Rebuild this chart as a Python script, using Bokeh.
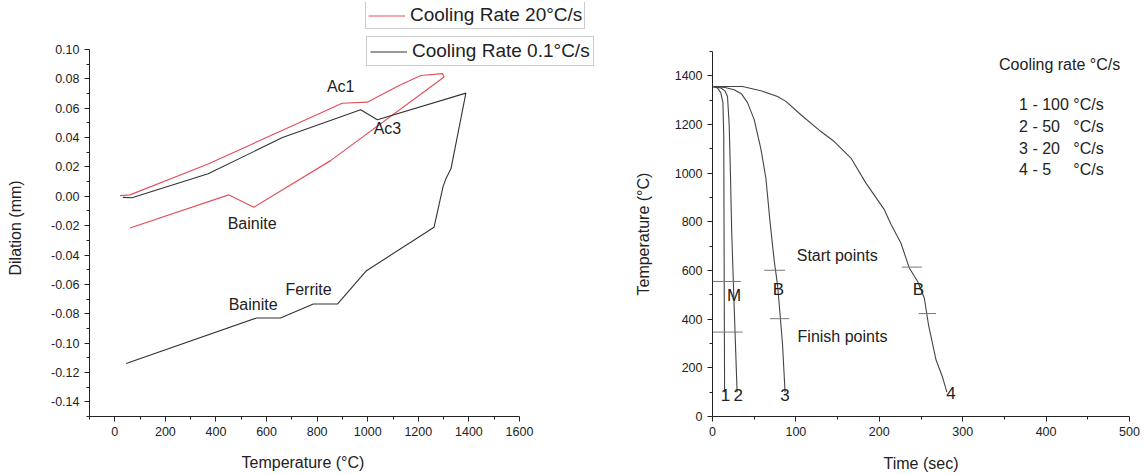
from bokeh.plotting import figure
from bokeh.layouts import row
from bokeh.models import Range1d, FixedTicker, Legend, LegendItem, Title
from bokeh.core.properties import value
from bokeh.embed import file_html
from bokeh.resources import INLINE

FONT = "Liberation Sans"
NBSP = "\u00a0"

# ---------------- Left chart data: dilation vs temperature ----------------
red_label = "Cooling Rate 20°C/s"
red_temp = [21, 60, 369, 899, 998, 1124, 1210, 1296, 1302, 853, 549, 450, 60]
red_dil = [0.0005, 0.001, 0.022, 0.0634, 0.0641, 0.0755, 0.0823, 0.0835, 0.0812, 0.0243,
           -0.0075, 0.001, -0.0216]

blk_label = "Cooling Rate 0.1°C/s"
blk_temp = [32, 68, 369, 663, 972, 1038, 1388, 1329, 1309, 1298, 1262, 995, 880, 785, 655, 560, 45]
blk_dil = [-0.0007, -0.001, 0.0153, 0.040, 0.0589, 0.0521, 0.0703, 0.0187, 0.0119, 0.0068, -0.0211,
           -0.0507, -0.0734, -0.0734, -0.0829, -0.0829, -0.1139]

ann_text = ["Ac1", "Ac3", "Bainite", "Bainite", "Ferrite"]
ann_temp = [893, 1078, 543, 547, 766]
ann_dil = [0.0748, 0.046, -0.0188, -0.0734, -0.0632]

left_x_bounds = (-100, 1600)
left_y_bounds = (-0.15, 0.10)
left_x_ticks = [0, 200, 400, 600, 800, 1000, 1200, 1400, 1600]
left_x_minor = [-100, 100, 300, 500, 700, 900, 1100, 1300, 1500]
left_y_ticks = [-0.14, -0.12, -0.10, -0.08, -0.06, -0.04, -0.02, 0.00, 0.02, 0.04, 0.06, 0.08, 0.10]
left_y_labels = ["-0.14", "-0.12", "-0.10", "-0.08", "-0.06", "-0.04", "-0.02", "0.00",
                 "0.02", "0.04", "0.06", "0.08", "0.10"]
left_y_minor = [-0.15, -0.13, -0.11, -0.09, -0.07, -0.05, -0.03, -0.01, 0.01, 0.03, 0.05, 0.07, 0.09]

# ---------------- Right chart data: temperature vs time ----------------
c1_t = [0, 6, 10, 12.5, 13.5, 14, 14.5]
c1_T = [1356, 1350, 1330, 1290, 1150, 600, 100]
c2_t = [0, 10, 15, 18, 20, 21.5, 23, 26, 29.5]
c2_T = [1356, 1350, 1338, 1315, 1200, 1000, 760, 450, 100]
c3_t = [0, 15, 26, 35, 42, 50, 58, 64, 69, 74, 78, 81, 84, 87]
c3_T = [1356, 1352, 1343, 1325, 1290, 1220, 1100, 980, 800, 640, 540, 420, 295, 100]
c4_t = [0, 36, 58, 78, 88, 106, 130, 146, 166, 184, 206, 214, 226, 236, 246, 254, 259, 268, 276, 281]
c4_T = [1356, 1356, 1339, 1315, 1295, 1240, 1171, 1130, 1062, 959, 850, 790, 712, 610, 555, 486, 377, 233, 160, 100]

mark_t0 = [0, 0, 62, 69, 227, 247]
mark_t1 = [34, 36, 87, 92, 251, 268]
mark_T = [555, 347, 601, 402, 614, 423]

lbl_text = ["M", "B", "B", "1", "2", "3", "4"]
lbl_t = [26, 79, 247, 15.6, 30.8, 87, 286]
lbl_T = [497, 521, 521, 89, 89, 89, 96]

note_text = ["Start points", "Finish points"]
note_t = [101, 102]
note_T = [662, 329]

key_title = "Cooling rate °C/s"
key_lines = ["1 - 100 °C/s",
             "2 - 50" + NBSP * 2 + " °C/s",
             "3 - 20" + NBSP * 2 + " °C/s",
             "4 - 5" + NBSP * 4 + " °C/s"]
key_T = [1281, 1192, 1100, 1014]

right_x_bounds = (0, 500)
right_y_bounds = (0, 1500)
right_x_ticks = [0, 100, 200, 300, 400, 500]
right_x_minor = [50, 150, 250, 350, 450]
right_y_ticks = [0, 200, 400, 600, 800, 1000, 1200, 1400]
right_y_minor = [100, 300, 500, 700, 900, 1100, 1300, 1500]

TOP, BOTTOM = 2, 58          # page px: frames span y = 2 .. 416
FRAME_H = 474 - TOP - BOTTOM


def style_axes(p):
    p.outline_line_color = None
    p.xgrid.visible = False
    p.ygrid.visible = False
    for ax in (p.xaxis[0], p.yaxis[0]):
        ax.axis_line_color = "#222222"
        ax.major_tick_line_color = "#222222"
        ax.minor_tick_line_color = "#222222"
        ax.major_tick_in = 0
        ax.major_tick_out = 5
        ax.minor_tick_in = 0
        ax.minor_tick_out = 3
        ax.major_label_text_font = FONT
        ax.major_label_text_font_size = "12.5px"
        ax.major_label_text_color = "#222222"
        ax.axis_label_text_font = FONT
        ax.axis_label_text_font_size = "16px"
        ax.axis_label_text_font_style = "normal"
        ax.axis_label_text_color = "#222222"


def spacer(ax, size_px, standoff):
    # blank axis label used only to push the axis title (a Title) outward
    ax.axis_label = NBSP
    ax.axis_label_text_font_size = f"{size_px}px"
    ax.axis_label_standoff = standoff


def axis_title(text, offset, standoff):
    return Title(text=text, align="left", offset=offset, standoff=standoff,
                 text_font=FONT, text_font_size="16px", text_font_style="normal",
                 text_color="#222222")


# ---------------- Left figure ----------------
# Frame is larger than the axes' extent so the legend boxes (above / right of the
# axes in the reference) are not clipped; the axes are limited with bounds.
px_per_x = 430 / (left_x_bounds[1] - left_x_bounds[0])
px_per_y = 367 / (left_y_bounds[1] - left_y_bounds[0])
x_end = left_x_bounds[0] + 516 / px_per_x
y_end = left_y_bounds[0] + FRAME_H / px_per_y

p1 = figure(width=620, height=474, x_range=Range1d(left_x_bounds[0], x_end),
            y_range=Range1d(left_y_bounds[0], y_end),
            output_backend="svg", toolbar_location=None,
            min_border_left=89, min_border_right=15, min_border_top=TOP, min_border_bottom=BOTTOM)
style_axes(p1)
p1.xaxis[0].bounds = left_x_bounds
p1.yaxis[0].bounds = left_y_bounds
p1.xaxis[0].ticker = FixedTicker(ticks=left_x_ticks, minor_ticks=left_x_minor)
p1.yaxis[0].ticker = FixedTicker(ticks=left_y_ticks, minor_ticks=left_y_minor)
p1.yaxis[0].major_label_overrides = {t: s for t, s in zip(left_y_ticks, left_y_labels)}
spacer(p1.xaxis[0], 4, 3)
spacer(p1.yaxis[0], 12, 4)
p1.add_layout(axis_title("Temperature (°C)", 152, 4), "below")
p1.add_layout(axis_title("Dilation (mm)", 141, 8), "left")

r_red = p1.line(red_temp, red_dil, line_color="#e0525a", line_width=1.2)
r_blk = p1.line(blk_temp, blk_dil, line_color="#333333", line_width=1.1)
p1.text(ann_temp, ann_dil, text=ann_text, text_font=value(FONT), text_font_size="16px",
        text_align="center", text_baseline="middle", text_color="#222222")

for rend, lab, loc, pad in ((r_red, red_label, (276, 387), 2), (r_blk, blk_label, (277, 350), 3)):
    lg = Legend(items=[LegendItem(label=lab, renderers=[rend])], location=loc,
                border_line_color="#999999", border_line_width=1, background_fill_alpha=1,
                padding=pad, margin=0, glyph_width=37, glyph_height=19, label_height=19,
                label_standoff=5, label_text_font=FONT, label_text_font_size="19px",
                label_text_color="#222222", spacing=0)
    p1.add_layout(lg)

# ---------------- Right figure ----------------
r_y_end = right_y_bounds[1] * FRAME_H / 365

p2 = figure(width=526, height=474, x_range=Range1d(*right_x_bounds), y_range=Range1d(0, r_y_end),
            output_backend="svg", toolbar_location=None,
            min_border_left=92, min_border_right=17, min_border_top=TOP, min_border_bottom=BOTTOM)
style_axes(p2)
p2.yaxis[0].bounds = right_y_bounds
p2.xaxis[0].ticker = FixedTicker(ticks=right_x_ticks, minor_ticks=right_x_minor)
p2.yaxis[0].ticker = FixedTicker(ticks=right_y_ticks, minor_ticks=right_y_minor)
p2.xaxis[0].axis_label = "Time (sec)"
p2.xaxis[0].axis_label_standoff = 16
spacer(p2.yaxis[0], 8, 4)
p2.add_layout(axis_title("Temperature (°C)", 121, 8), "left")

for tt, TT in ((c1_t, c1_T), (c2_t, c2_T), (c3_t, c3_T), (c4_t, c4_T)):
    p2.line(tt, TT, line_color="#444444", line_width=1.1)
p2.segment(mark_t0, mark_T, mark_t1, mark_T, line_color="#777777", line_width=1)
p2.text(lbl_t, lbl_T, text=lbl_text, text_font=value(FONT), text_font_size="17px",
        text_align="center", text_baseline="middle", text_color="#222222")
p2.text(note_t, note_T, text=note_text, text_font=value(FONT), text_font_size="16px",
        text_align="left", text_baseline="middle", text_color="#222222")
p2.text([343.6], [1447], text=[key_title], text_font=value(FONT), text_font_size="16px",
        text_align="left", text_baseline="middle", text_color="#222222")
p2.text([367.6] * len(key_lines), key_T, text=key_lines, text_font=value(FONT),
        text_font_size="16px", text_align="left", text_baseline="middle", text_color="#222222")

layout = row(p1, p2)
open("out.html", "w").write(file_html(layout, INLINE))
